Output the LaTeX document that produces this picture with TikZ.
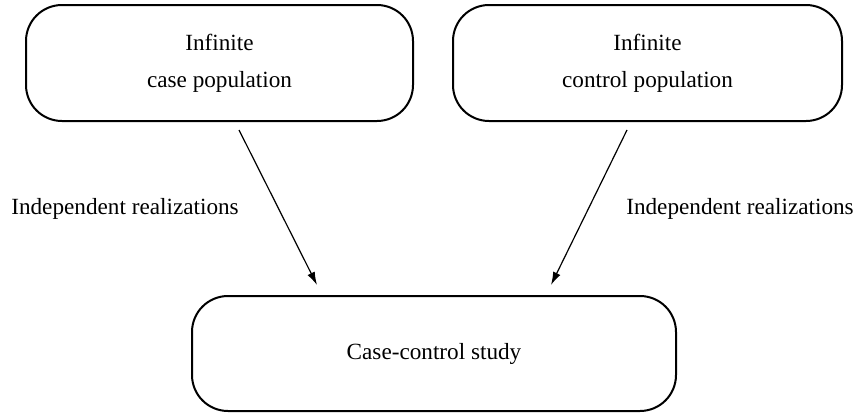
\documentclass[tikz,border=0pt]{standalone}
\usepackage{fontspec}
\setmainfont{Liberation Serif}
\newfontfamily\timesfont{Liberation Serif}
\usetikzlibrary{arrows.meta}
\begin{document}
\begin{tikzpicture}[x=0.5pt,y=0.5pt,
		popbox/.style={draw, line width=1pt, rounded corners=18pt, align=center, inner sep=0pt},
		arr/.style={line width=0.6pt, -{Latex[length=6.5pt,width=4pt]}},
		txt/.style={font=\timesfont\fontsize{11.6}{18.5}\selectfont}]
				\useasboundingbox (0,0) rectangle (856,-412);
				\node[popbox, txt, minimum width=193.5pt, minimum height=58pt] (casepop) at (219.5,-63) {Infinite\\case population};
				\node[popbox, txt, minimum width=194.5pt, minimum height=58pt] (ctrlpop) at (647.5,-63) {Infinite\\control population};
				\node[popbox, txt, minimum width=242pt, minimum height=57.5pt] (study) at (434,-353.5) {Case-control study};
				\coordinate (casestart) at (239,-130);
				\coordinate (caseend) at (317,-285);
				\coordinate (ctrlstart) at (627,-130);
				\coordinate (ctrlend) at (551,-285);
				\draw[arr] (casestart) -- (caseend);
				\draw[arr] (ctrlstart) -- (ctrlend);
				\node[txt] (caselab) at (125,-209) {Independent realizations};
				\node[txt] (ctrllab) at (740,-209) {Independent realizations};
			\end{tikzpicture}
\end{document}
